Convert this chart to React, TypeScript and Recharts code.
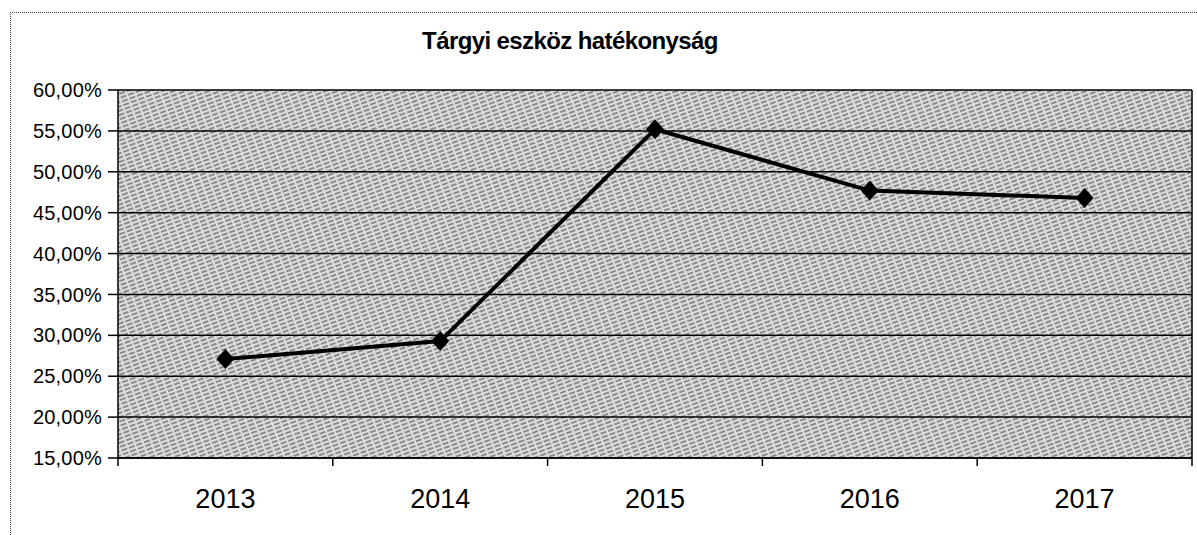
import {
  CartesianGrid,
  Line,
  LineChart,
  XAxis,
  YAxis,
} from 'recharts'

const years = ['2013', '2014', '2015', '2016', '2017']
const efficiency = [27.1, 29.3, 55.2, 47.7, 46.8]
const yTicks = [15, 20, 25, 30, 35, 40, 45, 50, 55, 60]

const TITLE = 'Tárgyi eszköz hatékonyság'
const FONT = '"Liberation Sans", Arial, sans-serif'

const rows = years.map((year, i) => ({ year, value: efficiency[i] }))

const formatPercent = (v: number) => `${v.toFixed(2).replace('.', ',')}%`

function Diamond(props: { cx?: number; cy?: number; index?: number }) {
  const { cx, cy, index } = props
  if (cx == null || cy == null) return null
  return (
    <polygon
      key={index}
      points={`${cx},${cy - 10} ${cx + 9},${cy} ${cx},${cy + 10} ${cx - 9},${cy}`}
      fill="#000"
    />
  )
}

// Excel-style category ticks: marks on the band edges, label in the middle
function YearTick(props: any) {
  const { x, y, payload, index } = props
  const half = payload?.offset ?? 0
  const last = index === years.length - 1
  return (
    <g>
      <line x1={x - half} y1={y} x2={x - half} y2={y + 8} stroke="#000" strokeWidth={1.5} />
      {last && (
        <line x1={x + half} y1={y} x2={x + half} y2={y + 8} stroke="#000" strokeWidth={1.5} />
      )}
      <text
        x={x}
        y={y + 50}
        textAnchor="middle"
        fill="#000"
        fontSize={27}
        fontFamily={FONT}
      >
        {payload.value}
      </text>
    </g>
  )
}

export default function App() {
  return (
    <div
      style={{
        position: 'absolute',
        left: 0,
        top: 0,
        width: 1197,
        height: 535,
        background: '#fff',
        fontFamily: FONT,
      }}
    >
      <div
        style={{
          position: 'absolute',
          left: 10,
          top: 12,
          right: 0,
          bottom: 0,
          borderTop: '1px dotted #444',
          borderLeft: '1px dotted #444',
        }}
      />
      <div
        style={{
          position: 'absolute',
          left: 0,
          top: 27,
          width: 1140,
          textAlign: 'center',
          fontSize: 24,
          fontWeight: 'bold',
          letterSpacing: -0.6,
          color: '#000',
        }}
      >
        {TITLE}
      </div>
      <div style={{ position: 'absolute', left: 0, top: 0 }}>
        <LineChart
          width={1197}
          height={535}
          data={rows}
          margin={{ top: 90, right: 0, bottom: 0, left: 0 }}
        >
          <defs>
            <pattern
              id="hatch"
              width="8"
              height="4"
              patternUnits="userSpaceOnUse"
              patternTransform="rotate(-20)"
            >
              <rect width="8" height="4" fill="#dcdcdc" />
              <line x1="0" y1="1" x2="6" y2="1" stroke="#3a3a3a" strokeWidth="1" />
            </pattern>
          </defs>
          <CartesianGrid
            vertical={false}
            stroke="#000"
            strokeWidth={1.5}
            fill="url(#hatch)"
            fillOpacity={1}
          />
          <XAxis
            dataKey="year"
            scale="band"
            height={77}
            axisLine={{ stroke: '#000', strokeWidth: 1.5 }}
            tickLine={false}
            tickSize={0}
            tickMargin={0}
            tick={<YearTick />}
            interval={0}
          />
          <YAxis
            type="number"
            domain={[15, 60]}
            ticks={yTicks}
            width={118}
            tickFormatter={formatPercent}
            tickSize={10}
            tickMargin={6}
            tick={{ fill: '#000', fontSize: 20, fontFamily: FONT, letterSpacing: 0.2 }}
            axisLine={{ stroke: '#000', strokeWidth: 1.5 }}
            tickLine={{ stroke: '#000', strokeWidth: 1.5 }}
            interval={0}
          />
          <YAxis
            yAxisId="right"
            orientation="right"
            type="number"
            domain={[15, 60]}
            width={5}
            tick={false}
            tickLine={false}
            axisLine={{ stroke: '#000', strokeWidth: 1.5 }}
          />
          <Line
            dataKey="value"
            stroke="#000"
            strokeWidth={4}
            dot={<Diamond />}
            activeDot={false}
            isAnimationActive={false}
          />
        </LineChart>
      </div>
    </div>
  )
}
